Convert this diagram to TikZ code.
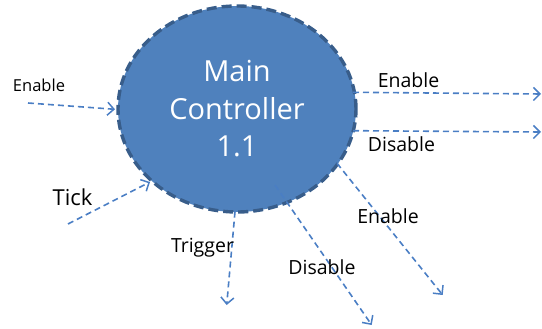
\documentclass[tikz,border=0pt]{standalone}
\usepackage{fontspec}
\setmainfont{Open Sans}
\usetikzlibrary{shapes.geometric,arrows.meta}
\definecolor{mcfill}{HTML}{4F81BD}
\definecolor{mcedge}{HTML}{385D8A}
\definecolor{flow}{HTML}{4A7EC4}
\tikzset{
  mcnode/.style={ellipse,fill=mcfill,draw=mcedge,line width=3.4pt,dash pattern=on 10pt off 5pt,
    minimum width=238pt,minimum height=206pt,inner sep=0pt,text=white,align=center,
    font=\fontsize{29}{37.5}\selectfont},
  flowline/.style={draw=flow,line width=1.6pt,dash pattern=on 6pt off 4pt,
    -{Straight Barb[length=6.5pt,width=13pt,line width=1.5pt]}},
  lbl/.style={anchor=base,inner sep=0pt,text=black,font=\fontsize{19.5}{22}\selectfont},
}
\begin{document}
\begin{tikzpicture}[x=1pt,y=-1pt]
\useasboundingbox (0,0) rectangle (542,329);
\node[mcnode] (mc) at (237,109) {Main\\Controller\\1.1};
% free ends
\coordinate (inA) at (28,103);
\coordinate (inAe) at (115,109.3);
\coordinate (inB) at (68,224);
\coordinate (inBe) at (150,182);
\coordinate (oA) at (353,92.3);
\coordinate (oAe) at (541,94);
\coordinate (oB) at (353,130.7);
\coordinate (oBe) at (541,132);
\coordinate (oC) at (235,211.7);
\coordinate (oCe) at (226.7,305);
\coordinate (oD) at (275,185);
\coordinate (oDe) at (371.7,325);
\coordinate (oE) at (337,163.3);
\coordinate (oEe) at (442.7,295);
\draw[flowline] (inA) -- (inAe);
\draw[flowline] (inB) -- (inBe);
\draw[flowline] (oA) -- (oAe);
\draw[flowline] (oB) -- (oBe);
\draw[flowline] (oC) -- (oCe);
\draw[flowline] (oD) -- (oDe);
\draw[flowline] (oE) -- (oEe);
% labels
\node[lbl,font=\fontsize{16.5}{20}\selectfont] (lInA) at (39,92) {Enable};
\node[lbl,font=\fontsize{22}{26}\selectfont] (lInB) at (72.5,205) {Tick};
\node[lbl] (lOA) at (408.5,88) {Enable};
\node[lbl] (lOB) at (401.5,152) {Disable};
\node[lbl] (lOC) at (202.5,253) {Trigger};
\node[lbl] (lOD) at (322,274) {Disable};
\node[lbl] (lOE) at (388,223) {Enable};
\end{tikzpicture}
\end{document}
